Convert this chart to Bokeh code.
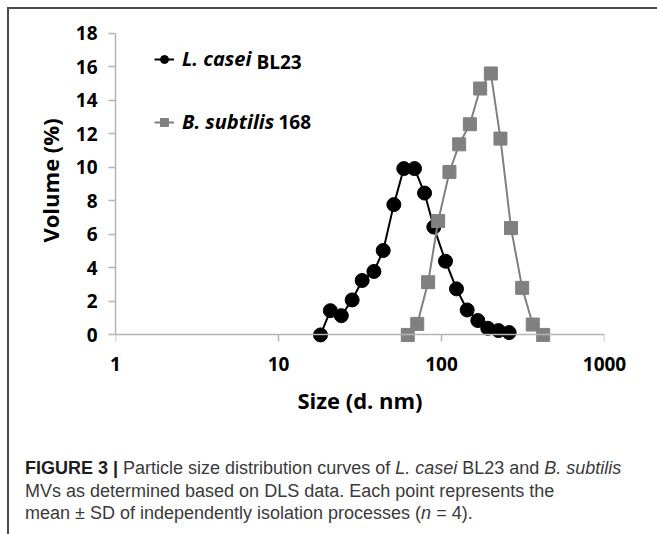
from bokeh.plotting import figure
from bokeh.layouts import column
from bokeh.models import (Range1d, FixedTicker, PrintfTickFormatter, Legend, LegendItem,
                          Label, LogAxis, Div)
from bokeh.embed import file_html
from bokeh.resources import INLINE

# ---- data ----
casei_size = [18.1, 20.8, 24.3, 28.3, 32.6, 38.5, 43.9, 51.0, 58.7, 68.3, 78.7, 89.7,
              105.8, 123.6, 143.7, 167.0, 192.3, 223.7, 260.0]
casei_volume = [0.0, 1.45, 1.15, 2.09, 3.25, 3.79, 5.04, 7.78, 9.93, 9.93, 8.47, 6.44,
                4.40, 2.75, 1.49, 0.86, 0.40, 0.26, 0.14]
subtilis_size = [62.1, 71.0, 82.8, 95.4, 111.9, 128.3, 149.3, 172.7, 200.8, 230.0,
                 267.0, 312.6, 363.0, 420.6]
subtilis_volume = [0.0, 0.66, 3.15, 6.80, 9.73, 11.38, 12.58, 14.71, 15.61, 11.72,
                   6.38, 2.81, 0.62, 0.0]
x_ticks = [1, 10, 100, 1000]
y_ticks = [0, 2, 4, 6, 8, 10, 12, 14, 16, 18]

FONT = "Open Sans"
AXIS_GRAY = "#b5b5b5"
FRAME_GRAY = "#4a4a4a"
BORDER = f"2px solid {FRAME_GRAY}"

p = figure(width=648, height=431, x_axis_type="log",
           x_range=Range1d(1, 1000), y_range=Range1d(-0.75, 19.19),
           output_backend="svg", toolbar_location=None,
           min_border_left=106, min_border_right=53, min_border_top=4, min_border_bottom=93)
p.grid.visible = False
p.outline_line_color = None
p.background_fill_color = "white"
p.border_fill_color = "white"
p.styles = {"border-left": BORDER}

def style_axis(ax):
    ax.axis_line_color = AXIS_GRAY
    ax.axis_line_width = 1.5
    ax.major_tick_line_color = AXIS_GRAY
    ax.major_tick_line_width = 1.5
    ax.major_tick_out = 7
    ax.major_tick_in = 0
    ax.minor_tick_line_color = None
    ax.major_label_text_font = FONT
    ax.major_label_text_font_style = "bold"
    ax.major_label_text_font_size = "19px"
    ax.major_label_text_color = "black"
    ax.axis_label_text_font = FONT
    ax.axis_label_text_font_style = "bold"
    ax.axis_label_text_font_size = "22px"
    ax.axis_label_text_color = "black"

# x axis line + ticks drawn at y = 0 (labels not drawn)
xa = p.xaxis[0]
style_axis(xa)
xa.ticker = FixedTicker(ticks=x_ticks)
xa.formatter = PrintfTickFormatter(format="%d")
xa.fixed_location = 0
xa.major_label_text_color = None
xa.major_label_text_font_size = "1px"
xa.major_label_standoff = 0

# x axis tick labels + title (no line, no ticks)
xb = LogAxis(ticker=FixedTicker(ticks=x_ticks), formatter=PrintfTickFormatter(format="%d"))
style_axis(xb)
xb.axis_line_color = None
xb.major_tick_line_color = None
xb.major_tick_out = 0
xb.major_label_standoff = 9
xb.axis_label = "Size (d. nm)"
xb.axis_label_standoff = 11
p.add_layout(xb, "below")

ya = p.yaxis[0]
style_axis(ya)
ya.ticker = FixedTicker(ticks=y_ticks)
ya.bounds = (0, 18)
ya.axis_label = "Volume (%)"
ya.major_label_standoff = 11
ya.axis_label_standoff = 8

l1 = p.line(casei_size, casei_volume, line_color="black", line_width=2)
s1 = p.scatter(casei_size, casei_volume, marker="circle", size=14,
               fill_color="black", line_color="black")
l2 = p.line(subtilis_size, subtilis_volume, line_color="#808080", line_width=2)
s2 = p.scatter(subtilis_size, subtilis_volume, marker="square", size=13,
               fill_color="#808080", line_color="#808080")

legend = Legend(items=[LegendItem(label="L. casei", renderers=[l1, s1]),
                       LegendItem(label="B. subtilis", renderers=[l2, s2])],
                location=(39, 212), orientation="vertical", padding=0, margin=0,
                spacing=36, glyph_width=20, glyph_height=24, label_height=24,
                label_standoff=8, label_text_font=FONT, label_text_font_style="bold italic",
                label_text_font_size="20px", label_text_color="black",
                border_line_color=None, background_fill_alpha=0)
p.add_layout(legend)

for x, y, t in [(141, 285.5, "BL23"), (163, 225.5, "168")]:
    p.add_layout(Label(x=x, y=y, x_units="screen", y_units="screen", text=t,
                       text_font=FONT, text_font_style="bold", text_font_size="19px",
                       text_color="black", text_baseline="middle", text_align="left"))

top_rule = Div(text="", width=650, height=2,
               styles={"background-color": FRAME_GRAY, "margin": "0px"})

caption_html = (
    '<span style="color:#1e1e1e;font-weight:bold">FIGURE 3 |</span> '
    'Particle size distribution curves of <i>L. casei</i> BL23 and <i>B. subtilis</i><br>'
    'MVs as determined based on DLS data. Each point represents the<br>'
    'mean \u00b1 SD of independently isolation processes (<i>n</i> = 4).'
)
caption = Div(text=caption_html, width=650, height=96,
              styles={"font-family": "Liberation Sans", "font-size": "18px",
                      "line-height": "22.5px", "color": "#3a3a3a",
                      "white-space": "nowrap", "padding-left": "16px",
                      "padding-top": "17px", "box-sizing": "border-box",
                      "margin": "0px", "border-left": BORDER,
                      "background-color": "white"})

layout = column(top_rule, p, caption, spacing=0,
                styles={"padding-left": "7px", "padding-top": "7px",
                        "background-color": "white"})

open("out.html", "w").write(file_html(layout, INLINE))
